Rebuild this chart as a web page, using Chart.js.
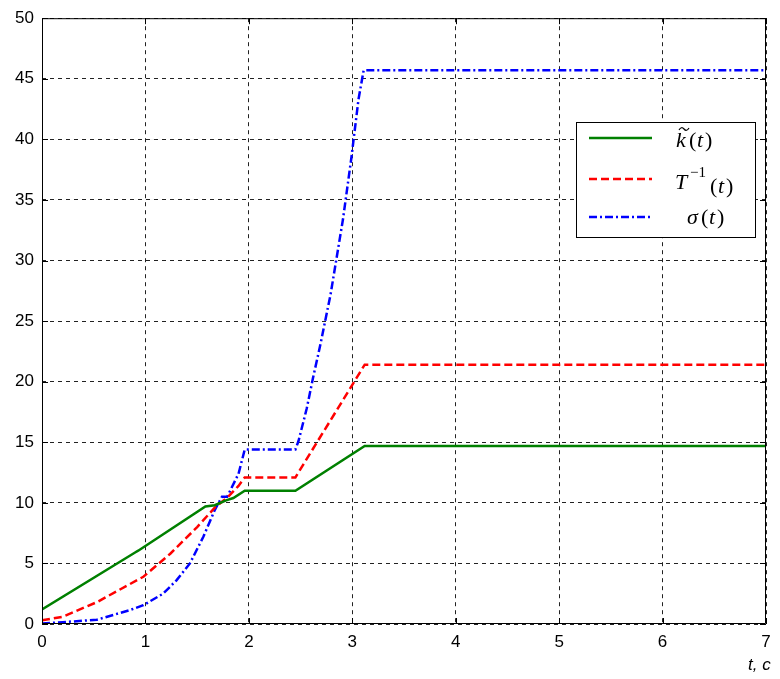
<!DOCTYPE html>
<html><head><meta charset="utf-8">
<script src="https://cdn.jsdelivr.net/npm/chart.js@4.4.1/dist/chart.umd.min.js"></script>
<style>html,body{margin:0;padding:0;background:#fff}#wrap{width:780px;height:679px}</style>
</head><body><div id="wrap"><canvas id="c" width="780" height="679"></canvas></div>
<script>
const xTicks = [0,1,2,3,4,5,6,7];
const yTicks = [0,5,10,15,20,25,30,35,40,45,50];
const kT = [0, 0.9, 0.93, 1.58, 1.67, 1.78, 1.85, 1.96, 2.45, 3.12, 7];
const kV = [1.2, 5.9, 6.05, 9.7, 9.8, 10.2, 10.4, 11.0, 11.0, 14.7, 14.7];
const rT = [0, 0.2, 0.53, 0.98, 1.24, 1.5, 1.67, 1.8, 1.9, 1.96, 2.45, 3.12, 7];
const rV = [0.3, 0.6, 1.8, 3.9, 5.8, 8.0, 9.6, 10.5, 11.4, 12.1, 12.1, 21.4, 21.4];
const sT = [0, 0.2, 0.53, 0.85, 0.98, 1.17, 1.3, 1.43, 1.56, 1.67, 1.74, 1.79, 1.9, 1.96, 2.45, 2.48, 2.56, 2.62, 2.69, 2.79, 2.91, 2.99, 3.06, 3.11, 7];
const sV = [0.05, 0.15, 0.35, 1.15, 1.55, 2.5, 3.6, 5.0, 7.2, 9.4, 10.5, 10.5, 12.4, 14.4, 14.4, 15.1, 17.8, 20.3, 23.0, 27.2, 33.4, 38.4, 43.3, 45.7, 45.7];

const pts = (t, v) => t.map((x, i) => ({x, y: v[i]}));

const frame = {
  id: 'frame',
  afterDraw(chart) {
    const {ctx, chartArea: a, scales: {x, y}} = chart;
    ctx.save();
    ctx.strokeStyle = '#000'; ctx.lineWidth = 1; ctx.setLineDash([]);
    ctx.beginPath();
    ctx.rect(a.left + 0.5, a.top + 0.5, a.right - a.left - 1, a.bottom - a.top - 1);
    ctx.stroke();
    ctx.beginPath();
    xTicks.forEach(t => { const px = Math.round(x.getPixelForValue(t)) + 0.5;
      ctx.moveTo(px, a.bottom); ctx.lineTo(px, a.bottom - 6);
      ctx.moveTo(px, a.top); ctx.lineTo(px, a.top + 6); });
    yTicks.forEach(t => { const py = Math.round(y.getPixelForValue(t)) + 0.5;
      ctx.moveTo(a.left, py); ctx.lineTo(a.left + 6, py);
      ctx.moveTo(a.right, py); ctx.lineTo(a.right - 6, py); });
    ctx.stroke();
    // legend
    const L = 576, T = 122, R = 755, B = 237;
    ctx.fillStyle = '#fff'; ctx.fillRect(L, T, R - L, B - T);
    ctx.strokeStyle = '#000'; ctx.lineWidth = 1;
    ctx.strokeRect(L + 0.5, T + 0.5, R - L, B - T);
    const items = chart.data.datasets;
    const ys = [138, 179, 217];
    items.forEach((d, i) => {
      ctx.strokeStyle = d.borderColor; ctx.lineWidth = d.borderWidth;
      ctx.setLineDash(d.borderDash || []);
      ctx.beginPath(); ctx.moveTo(589, ys[i]); ctx.lineTo(652, ys[i]); ctx.stroke();
    });
    ctx.setLineDash([]);
    ctx.fillStyle = '#000'; ctx.textBaseline = 'alphabetic'; ctx.textAlign = 'left';
    const f = 'italic 22px "Liberation Serif", serif';
    const fn = '22px "Liberation Serif", serif';
    // k~(t)
    ctx.font = f; ctx.fillText('k', 676, 147);
    ctx.strokeStyle = '#000'; ctx.lineWidth = 1.2;
    ctx.beginPath(); ctx.moveTo(679, 130); ctx.quadraticCurveTo(681.5, 126, 684, 129);
    ctx.quadraticCurveTo(686.5, 132, 689, 128); ctx.stroke();
    ctx.font = fn; ctx.fillText('(', 689, 147);
    ctx.font = f; ctx.fillText('t', 697, 147);
    ctx.font = fn; ctx.fillText(')', 705, 147);
    // T^-1(t)
    ctx.font = f; ctx.fillText('T', 675, 189);
    ctx.font = '15px "Liberation Serif", serif'; ctx.fillText('\u22121', 690, 177);
    ctx.font = fn; ctx.fillText('(', 710, 193);
    ctx.font = f; ctx.fillText('t', 718, 193);
    ctx.font = fn; ctx.fillText(')', 726, 193);
    // sigma(t)
    ctx.font = f; ctx.fillText('\u03c3', 687, 224);
    ctx.font = fn; ctx.fillText('(', 701, 224);
    ctx.font = f; ctx.fillText('t', 709, 224);
    ctx.font = fn; ctx.fillText(')', 717, 224);
    // axis label
    ctx.font = 'italic 17px "Liberation Sans", Arial, sans-serif';
    ctx.fillText('t, c', 748, 670);
    ctx.restore();
  }
};

new Chart(document.getElementById('c'), {
  type: 'line',
  plugins: [frame],
  data: { datasets: [
    { label: 'k(t)', data: pts(kT, kV), borderColor: '#008000', borderWidth: 2.5, borderDash: [] },
    { label: 'T^-1(t)', data: pts(rT, rV), borderColor: '#ff0000', borderWidth: 2.5, borderDash: [8, 4] },
    { label: 'sigma(t)', data: pts(sT, sV), borderColor: '#0000ff', borderWidth: 2.5, borderDash: [8, 3, 2, 3] }
  ]},
  options: {
    responsive: false, animation: false,
    layout: { padding: { top: 15, right: 14, left: 0, bottom: 0 } },
    elements: { point: { radius: 0 }, line: { tension: 0 } },
    plugins: { legend: { display: false }, tooltip: { enabled: false } },
    scales: {
      x: { type: 'linear', min: 0, max: 7,
        afterBuildTicks: s => { s.ticks = xTicks.map(v => ({value: v})); },
        afterFit: s => { s.height = 55; },
        grid: { color: '#222', lineWidth: 1, drawTicks: false },
        border: { display: false, dash: [4, 4] },
        ticks: { color: '#000', padding: 8, font: { size: 17, family: '"Liberation Sans", Arial, sans-serif' }, maxRotation: 0 }
      },
      y: { type: 'linear', min: 0, max: 50,
        afterBuildTicks: s => { s.ticks = yTicks.map(v => ({value: v})); },
        afterFit: s => { s.width = 42; },
        grid: { color: '#222', lineWidth: 1, drawTicks: false },
        border: { display: false, dash: [4, 4] },
        ticks: { color: '#000', padding: 8, font: { size: 17, family: '"Liberation Sans", Arial, sans-serif' } }
      }
    }
  }
});
</script></body></html>
